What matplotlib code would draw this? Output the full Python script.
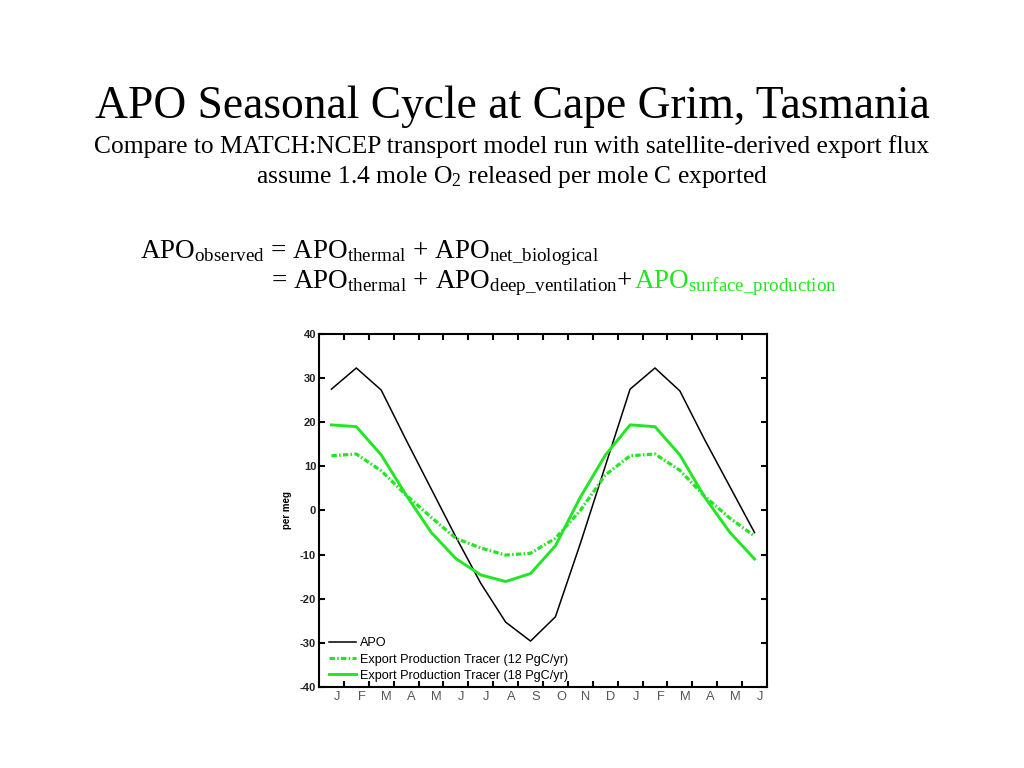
import matplotlib
matplotlib.use("Agg")
import matplotlib.pyplot as plt
import numpy as np

months = ["J", "F", "M", "A", "M", "J", "J", "A", "S", "O", "N", "D",
          "J", "F", "M", "A", "M", "J"]
apo = [27.5, 32.3, 27.3, 16.0, 5.0, -6.0, -16.5, -25.3, -29.6, -24.1, -7.5, 10.0,
       27.5, 32.3, 27.1, 16.0, 5.5, -5.0]
tracer12 = [12.4, 12.8, 9.0, 3.5, -1.5, -6.3, -8.5, -10.1, -9.7, -6.3, 0.0, 8.0,
            12.4, 12.8, 9.1, 3.2, -1.7, -5.8]
tracer18 = [19.4, 19.0, 12.6, 3.5, -4.9, -10.9, -14.6, -16.1, -14.3, -8.0, 3.0, 12.5,
            19.4, 19.0, 12.6, 3.0, -4.9, -11.0]
yticks = [-40, -30, -20, -10, 0, 10, 20, 30, 40]
labels = ["APO", "Export Production Tracer (12 PgC/yr)",
          "Export Production Tracer (18 PgC/yr)"]

GREEN = "#22e622"
serif = ["Liberation Serif", "DejaVu Serif"]
plt.rcParams["mathtext.fontset"] = "custom"
plt.rcParams["mathtext.rm"] = "Liberation Serif"
plt.rcParams["mathtext.it"] = "Liberation Serif:italic"

fig = plt.figure(figsize=(10.24, 7.68), dpi=100)
fig.patch.set_facecolor("white")

# Titles
fig.text(0.5, 0.847, "APO Seasonal Cycle at Cape Grim, Tasmania", ha="center",
         va="baseline", family=serif, fontsize=32.8)
fig.text(0.5, 0.801, "Compare to MATCH:NCEP transport model run with satellite-derived export flux",
         ha="center", va="baseline", family=serif, fontsize=18.4)
fig.text(0.5, 0.762, r"assume 1.4 mole O$_2$ released per mole C exported",
         ha="center", va="baseline", family=serif, fontsize=18.4)

# Equations
eq_fs = 19.5
fig.text(0.1365, 0.664,
         r"APO$_{\mathrm{observed}}$ = APO$_{\mathrm{thermal}}$ + APO$_{\mathrm{net\_biological}}$",
         ha="left", va="baseline", family=serif, fontsize=eq_fs)
t2 = fig.text(0.265, 0.625,
              r"= APO$_{\mathrm{thermal}}$ + APO$_{\mathrm{deep\_ventilation}}$+ ",
              ha="left", va="baseline", family=serif, fontsize=eq_fs)
fig.canvas.draw()
bb = t2.get_window_extent()
x_end = bb.x1 / fig.bbox.width
fig.text(x_end, 0.625, r"APO$_{\mathrm{surface\_production}}$", ha="left",
         va="baseline", family=serif, fontsize=eq_fs, color=GREEN)

# Chart
ax = fig.add_axes([0.3115, 0.1055, 0.4375, 0.4596])
x = np.arange(len(months)) + 0.5
ax.plot(x, apo, color="black", lw=1.1, label=labels[0])
ax.plot(x, tracer12, color=GREEN, lw=2.3, ls=(0, (1.7, 0.7, 0.5, 0.7)), label=labels[1])
ax.plot(x, tracer18, color=GREEN, lw=2.1, label=labels[2])

ax.set_xlim(0, len(months))
ax.set_ylim(-40, 40)
ax.set_yticks(yticks)
ax.set_yticklabels([str(v) for v in yticks], fontsize=8, fontweight="bold",
                   family="Liberation Sans", color="#222222")
ax.set_xticks(np.arange(1, len(months)))
ax.set_xticklabels([])
ax.set_xticks(np.arange(len(months)) + 0.72, minor=True)
ax.set_xticklabels(months, minor=True, fontsize=9.3, family="Liberation Sans",
                   color="#555555")
ax.tick_params(axis="both", which="major", direction="in", length=4, width=1.5,
               top=True, right=True, pad=2)
ax.tick_params(axis="x", which="minor", length=0, pad=3)
for s in ax.spines.values():
    s.set_linewidth(1.5)
ax.set_ylabel("per meg", fontsize=7, fontweight="bold", family="Liberation Sans",
              labelpad=6)

ax.legend(loc="lower left", bbox_to_anchor=(0.016, 0.006), frameon=False,
          handlelength=2.1, handletextpad=0.3, labelspacing=0.33,
          borderaxespad=0.0, borderpad=0.25,
          prop={"family": "Liberation Sans", "size": 9.1})

fig.savefig("out.png", dpi=100, facecolor="white")
